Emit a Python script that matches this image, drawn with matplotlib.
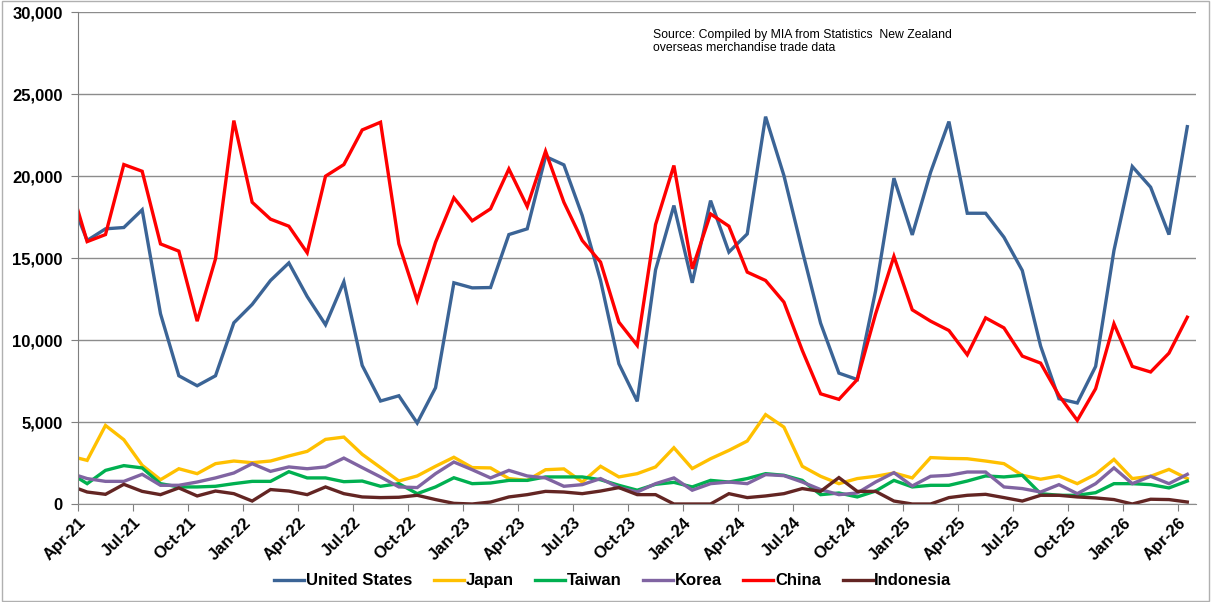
import matplotlib
matplotlib.use("Agg")
import matplotlib.pyplot as plt
from matplotlib.patches import Rectangle
from matplotlib.ticker import FuncFormatter

plt.rcParams["font.family"] = ["Liberation Sans", "DejaVu Sans"]

# monthly values, Mar-21 .. Apr-26 (Mar-21 only feeds the clipped first segment)
united_states = [
    18900,
    16070, 16780, 16860, 17940, 11600, 7820, 7210, 7820, 11050, 12170,
    13630, 14700, 12650, 10930, 13550, 8450, 6280, 6600, 4940, 7090,
    13490, 13180, 13200, 16430, 16780, 21190, 20680, 17590, 13630, 8550,
    6260, 14280, 18200, 13490, 18500, 15360, 16470, 23620, 20030, 15460,
    11030, 7980, 7590, 13000, 19870, 16410, 20230, 23320, 17730, 17730,
    16270, 14240, 9630, 6420, 6160, 8390, 15460, 20580, 19320, 16430,
    23010,
]
japan = [
    2940,
    2660, 4790, 3920, 2360, 1480, 2150, 1850, 2460, 2620, 2520,
    2620, 2930, 3210, 3940, 4080, 3030, 2220, 1400, 1710, 2300,
    2850, 2220, 2200, 1550, 1440, 2090, 2140, 1340, 2300, 1650,
    1850, 2260, 3430, 2160, 2760, 3270, 3840, 5450, 4690, 2300,
    1690, 1240, 1550, 1690, 1890, 1590, 2830, 2780, 2760, 2620,
    2460, 1750, 1510, 1710, 1240, 1810, 2720, 1550, 1690, 2110,
    1550,
]
taiwan = [
    1930,
    1240, 2050, 2340, 2200, 1240, 1040, 1040, 1080, 1240, 1380,
    1380, 1970, 1590, 1590, 1360, 1400, 1080, 1240, 630, 1040,
    1600, 1240, 1280, 1440, 1440, 1650, 1650, 1650, 1480, 1140,
    840, 1200, 1320, 1040, 1440, 1340, 1550, 1850, 1750, 1440,
    570, 670, 430, 790, 1440, 1040, 1140, 1140, 1400, 1710,
    1650, 1750, 630, 530, 530, 690, 1240, 1240, 1180, 980,
    1400,
]
korea = [
    1900,
    1550, 1380, 1380, 1810, 1140, 1140, 1340, 1590, 1890, 2460,
    1990, 2260, 2150, 2260, 2800, 2220, 1650, 1040, 1000, 1850,
    2560, 2090, 1590, 2050, 1710, 1590, 1080, 1180, 1550, 1000,
    730, 1240, 1590, 840, 1240, 1340, 1240, 1790, 1730, 1340,
    880, 570, 670, 1340, 1910, 1100, 1690, 1750, 1950, 1950,
    1040, 940, 730, 1180, 630, 1240, 2200, 1240, 1690, 1240,
    1810,
]
china = [
    19780,
    16000, 16430, 20700, 20290, 15860, 15420, 11150, 14950, 23380, 18400,
    17370, 16940, 15320, 19990, 20700, 22810, 23280, 15860, 12410, 15960,
    18670, 17270, 18000, 20430, 18140, 21510, 18400, 16070, 14750, 11090,
    9670, 17040, 20640, 14340, 17690, 16940, 14140, 13630, 12310, 9370,
    6720, 6380, 7590, 11590, 15100, 11840, 11150, 10580, 9100, 11350,
    10740, 9020, 8590, 6620, 5100, 7030, 10990, 8390, 8050, 9200,
    11390,
]
indonesia = [
    1140,
    730, 590, 1200, 770, 570, 980, 490, 790, 630, 180,
    880, 790, 570, 1040, 630, 430, 390, 410, 530, 270,
    40, 0, 120, 430, 570, 770, 730, 630, 790, 1000,
    570, 570, 0, 0, 0, 630, 390, 490, 630, 940,
    770, 1610, 770, 770, 180, 0, 0, 390, 530, 590,
    390, 180, 530, 530, 430, 370, 270, 0, 290, 270,
    120,
]

tick_labels = ["Apr-21", "Jul-21", "Oct-21", "Jan-22", "Apr-22", "Jul-22",
               "Oct-22", "Jan-23", "Apr-23", "Jul-23", "Oct-23", "Jan-24",
               "Apr-24", "Jul-24", "Oct-24", "Jan-25", "Apr-25", "Jul-25",
               "Oct-25", "Jan-26", "Apr-26"]

series = [
    ("United States", united_states, "#3b6496"),
    ("Japan", japan, "#ffc000"),
    ("Taiwan", taiwan, "#00b050"),
    ("Korea", korea, "#8064a2"),
    ("China", china, "#ff0000"),
    ("Indonesia", indonesia, "#632523"),
]

# month i spans [i, i+1) on the axis, values sit mid-month
x = [i - 0.5 for i in range(len(united_states))]

fig = plt.figure(figsize=(12.11, 6.02), dpi=100)
ax = fig.add_axes([0.0644, 0.1628, 0.9236, 0.8172])

for name, vals, col in series:
    ax.plot(x, vals, color=col, lw=2.4, label=name, solid_joinstyle="miter")

ax.set_xlim(0, 61)
ax.set_ylim(0, 30000)
ax.set_yticks(range(0, 30001, 5000))
ax.yaxis.set_major_formatter(FuncFormatter(lambda v, p: "{:,.0f}".format(v)))
ax.set_xticks(range(0, 61, 3))
ax.set_xticklabels(tick_labels, rotation=45, ha="right", rotation_mode="anchor")

ax.grid(axis="y", color="#8c8c8c", lw=1.0)
ax.set_axisbelow(True)
for s in ["top", "right"]:
    ax.spines[s].set_visible(False)
ax.spines["left"].set_color("#7f7f7f")
ax.spines["bottom"].set_color("#8c8c8c")
ax.tick_params(axis="both", length=5, color="#7f7f7f", labelsize=12)
ax.tick_params(axis="y", pad=6)
ax.tick_params(axis="x", pad=3)
for lbl in ax.get_xticklabels() + ax.get_yticklabels():
    lbl.set_fontweight("bold")

ax.text(0.514, 0.965,
        "Source: Compiled by MIA from Statistics  New Zealand\noverseas merchandise trade data",
        transform=ax.transAxes, fontsize=8.8, va="top", ha="left", linespacing=1.1)

fig.legend(loc="center", bbox_to_anchor=(0.506, 0.035), ncol=6, frameon=False,
           handlelength=1.8, handletextpad=0.1, columnspacing=1.3,
           prop={"weight": "bold", "size": 12})

fig.patches.append(Rectangle((0.002, 0.002), 0.996, 0.996, transform=fig.transFigure,
                             fill=False, edgecolor="#b0b0b0", lw=1))

fig.savefig("out.png", dpi=100)
